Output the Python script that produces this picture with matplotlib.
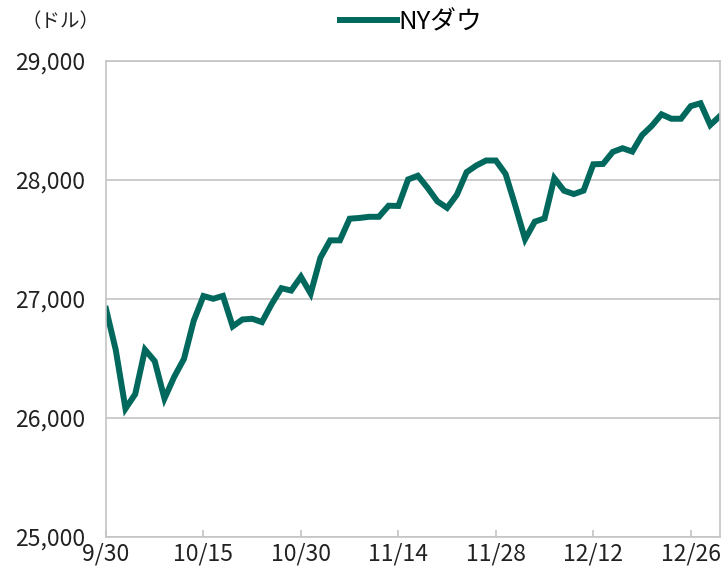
import matplotlib
matplotlib.use("Agg")
import matplotlib.pyplot as plt
from matplotlib.ticker import FuncFormatter

plt.rcParams['font.family'] = ['Noto Sans CJK JP', 'DejaVu Sans']

# NY Dow closing values (Japanese business days, 9/30 - 12/31)
dow = [26917, 26573, 26079, 26201, 26574, 26478, 26164, 26346, 26497, 26817,
       27025, 27002, 27026, 26770, 26828, 26834, 26806, 26958, 27091, 27071,
       27187, 27046, 27347, 27493, 27493, 27675, 27681, 27691, 27691, 27784,
       27782, 28005, 28036, 27934, 27821, 27766, 27876, 28066, 28122, 28164,
       28164, 28051, 27783, 27503, 27650, 27678, 28015, 27910, 27882, 27911,
       28132, 28135, 28236, 28267, 28239, 28377, 28455, 28552, 28515, 28515,
       28621, 28645, 28462, 28538]
tick_pos = [0, 10, 20, 30, 40, 50, 60]
tick_labels = ["9/30", "10/15", "10/30", "11/14", "11/28", "12/12", "12/26"]

line_color = "#00685c"
grey = "#c4c4c4"

fig = plt.figure(figsize=(7.25, 5.66), dpi=100)
ax = fig.add_axes([0.1462, 0.0512, 0.8469, 0.8410])

ax.plot(range(len(dow)), dow, color=line_color, linewidth=4.3,
        solid_joinstyle="miter", label="NYダウ")

ax.set_xlim(0, len(dow) - 1)
ax.set_ylim(25000, 29000)
ax.set_yticks([25000, 26000, 27000, 28000, 29000])
ax.yaxis.set_major_formatter(FuncFormatter(lambda v, p: f"{int(v):,}"))
ax.set_xticks(tick_pos)
ax.set_xticklabels(tick_labels)

ax.grid(axis="y", color=grey, linewidth=1.2)
ax.set_axisbelow(True)
for s in ax.spines.values():
    s.set_color(grey)
    s.set_linewidth(1.2)

ax.tick_params(axis="y", length=0, labelsize=16.5, pad=15, colors="#222222")
ax.tick_params(axis="x", direction="in", length=5, color=grey, width=1.2,
               labelsize=16.5, pad=4, labelcolor="#222222")

ax.legend(loc="center", bbox_to_anchor=(0.497, 1.082), frameon=False,
          fontsize=18.5, handlelength=2.2, handletextpad=0.05)
fig.text(0.083, 0.962, "（ドル）", fontsize=14, ha="center", va="center",
         color="#222222")

fig.savefig("out.png")
